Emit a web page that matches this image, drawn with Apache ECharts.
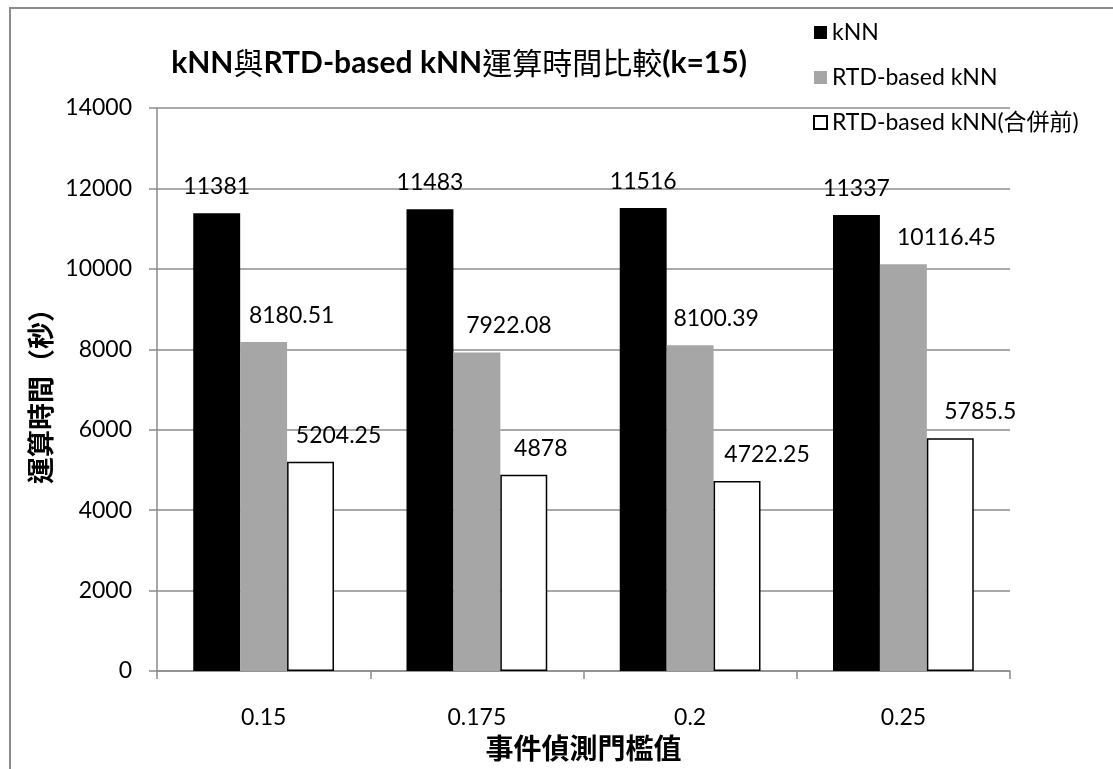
<!DOCTYPE html>
<html>
<head>
<meta charset="utf-8">
<script src="https://cdn.jsdelivr.net/npm/echarts@6/dist/echarts.min.js"></script>
<style>
  html, body { margin: 0; padding: 0; background: #fff; }
  #chart { width: 1113px; height: 769px; }
</style>
</head>
<body>
<div id="chart"></div>
<script>
// Event-detection thresholds on the x axis
const categories = ['0.15', '0.175', '0.2', '0.25'];
// Running time in seconds
const knn = [11381, 11483, 11516, 11337];
const rtdKnn = [8180.51, 7922.08, 8100.39, 10116.45];
const rtdKnnBeforeMerge = [5204.25, 4878, 4722.25, 5785.5];
const yTicks = [0, 2000, 4000, 6000, 8000, 10000, 12000, 14000];

// Horizontal nudges (px) that keep value labels clear of neighbouring bars
const rtdKnnLabelShift = [28, 32, 26, 43];
const beforeMergeLabelShift = [28, 17, 30, 30];

const latin = 'Lato, "Noto Sans CJK TC", sans-serif';
const cjk = '"Noto Sans CJK TC", sans-serif';

function baseLabel() {
  return {
    show: true,
    position: 'top',
    distance: 15,
    color: '#000',
    fontFamily: latin,
    fontSize: 23
  };
}

function withShift(values, shifts) {
  return values.map((v, i) => ({
    value: v,
    label: { offset: [shifts[i], 0] }
  }));
}

const chart = echarts.init(document.getElementById('chart'), null, { renderer: 'canvas' });
chart.setOption({
  backgroundColor: '#fff',
  animation: false,
  graphic: [{
    type: 'rect',
    shape: { x: 10, y: 8, width: 1115, height: 775 },
    style: { fill: 'none', stroke: '#8c8c8c', lineWidth: 2 },
    silent: true
  }],
  title: {
    text: '{b|kNN}{c|與}{b|RTD-based kNN}{c|運算時間比較}{b|(k=15)}',
    left: 454,
    top: 43,
    textAlign: 'center',
    textStyle: {
      rich: {
        b: { fontFamily: latin, fontSize: 30, fontWeight: 'bold', color: '#000' },
        c: { fontFamily: cjk, fontSize: 30, fontWeight: 'normal', color: '#000' }
      }
    }
  },
  legend: {
    orient: 'vertical',
    left: 808,
    top: 16,
    itemWidth: 13,
    itemHeight: 13,
    itemGap: 22,
    icon: 'rect',
    textStyle: { fontFamily: latin, fontSize: 23, color: '#000' },
    data: ['kNN', 'RTD-based kNN', 'RTD-based kNN(合併前)']
  },
  grid: { left: 157, right: 103, top: 108, bottom: 98, containLabel: false },
  xAxis: {
    type: 'category',
    data: categories,
    name: '事件偵測門檻值',
    nameLocation: 'middle',
    nameGap: 63,
    nameTextStyle: { fontFamily: cjk, fontSize: 28, fontWeight: 'bold', color: '#000' },
    axisLine: { lineStyle: { color: '#8c8c8c', width: 1.5 } },
    axisTick: { show: true, length: 8, alignWithLabel: false, lineStyle: { color: '#8c8c8c', width: 1.5 } },
    axisLabel: { fontFamily: latin, fontSize: 23, color: '#000', margin: 35 }
  },
  yAxis: {
    type: 'value',
    min: yTicks[0],
    max: yTicks[yTicks.length - 1],
    interval: yTicks[1] - yTicks[0],
    name: '運算時間（秒）',
    nameLocation: 'middle',
    nameGap: 103,
    nameRotate: 90,
    nameTextStyle: { fontFamily: cjk, fontSize: 27, fontWeight: 'bold', color: '#000' },
    axisLine: { show: true, lineStyle: { color: '#8c8c8c', width: 1.5 } },
    axisTick: { show: true, length: 8, lineStyle: { color: '#8c8c8c', width: 1.5 } },
    axisLabel: { fontFamily: latin, fontSize: 23, color: '#000', margin: 25, formatter: v => String(v) },
    splitLine: { show: true, lineStyle: { color: '#8c8c8c', width: 1.5 } }
  },
  series: [
    {
      name: 'kNN',
      type: 'bar',
      z: 2,
      data: knn,
      barGap: '0%',
      barCategoryGap: '34%',
      itemStyle: { color: '#000' },
      label: baseLabel()
    },
    {
      name: 'RTD-based kNN',
      type: 'bar',
      z: 3,
      data: withShift(rtdKnn, rtdKnnLabelShift),
      barGap: '0%',
      barCategoryGap: '34%',
      itemStyle: { color: '#a6a6a6' },
      label: baseLabel()
    },
    {
      name: 'RTD-based kNN(合併前)',
      type: 'bar',
      z: 4,
      data: withShift(rtdKnnBeforeMerge, beforeMergeLabelShift),
      barGap: '0%',
      barCategoryGap: '34%',
      itemStyle: { color: '#fff', borderColor: '#000', borderWidth: 1.5 },
      label: baseLabel()
    }
  ]
});
</script>
</body>
</html>
